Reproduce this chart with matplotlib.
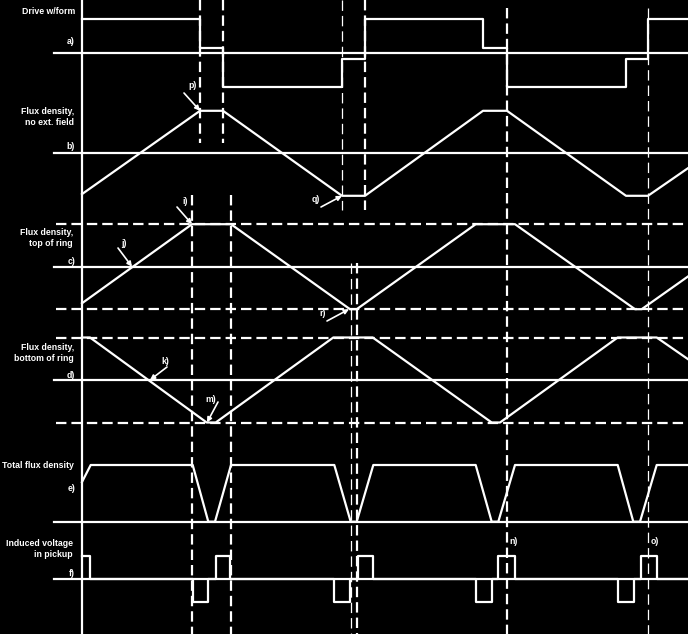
import matplotlib
matplotlib.use("Agg")
import matplotlib.pyplot as plt

plt.rcParams['lines.scale_dashes'] = False
plt.rcParams['font.family'] = ['Liberation Sans', 'DejaVu Sans']

# ---------------- data (time in diagram units, levels normalised) ----------------
t_drive = [82, 200, 223, 342, 365, 483, 507, 626, 648, 688]
v_drive = [1.0, 0.15, -1.0, -0.19, 1.0, 0.15, -1.0, -0.19, 1.0, 1.0]

t_flux_b = [82, 200, 223, 342, 365, 483, 507, 626, 648, 688]
v_flux_b = [-0.96, 1, 1, -1, -1, 1, 1, -1, -1, -0.35]

t_flux_c = [82, 192, 231, 350, 356.7, 475.7, 515, 635, 641.7, 688]
v_flux_c = [-0.86, 1, 1, -1, -1, 1, 1, -1, -1, -0.23]

t_flux_d = [82, 90, 206.7, 215.7, 333.3, 372.7, 491.7, 500, 617.7, 656.7, 688]
v_flux_d = [1, 1, -1, -1, 1, 1, -1, -1, 1, 1, 0.49]

t_total = [82, 90.7, 192.7, 208.3, 215, 231, 334.3, 350.7, 356.7, 373.3, 475.7,
           491.7, 498.3, 515, 617.7, 633.3, 640, 656.7, 688]
v_total = [0.7, 1, 1, 0, 0, 1, 1, 0, 0, 1, 1, 0, 0, 1, 1, 0, 0, 1, 1]

t_pickup = [82, 90, 192.7, 208.3, 216, 230, 334.3, 350, 357.7, 373.3, 475.7,
            492.3, 498.3, 515, 617.7, 634, 640.7, 656.7, 688]
v_pickup = [1, 0, -1, 0, 1, 0, -1, 0, 1, 0, -1, 0, 1, 0, -1, 0, 1, 0, 0]

labels_main = ["Drive w/form", "Flux density,\nno ext. field", "Flux density,\ntop of ring",
               "Flux density,\nbottom of ring", "Total flux density", "Induced voltage\nin pickup"]
labels_ch = ["a)", "b)", "c)", "d)", "e)", "f)"]

# marker times (vertical dashed lines)
t_marks_thick = [200, 223, 365, 507, 192, 231, 356.7]
t_marks_thin = [342, 648, 350.7]

# annotation labels
ann_labels = ["p)", "q)", "i)", "j)", "r)", "k)", "m)"]

# ---------------- layout ----------------
W, H = 688, 634
base = {'a': 52.7, 'b': 153.3, 'c': 266.7, 'd': 380.0, 'e': 521.7, 'f': 579.0}
amp = {'a': 33.8, 'b': 42.5, 'c': 42.5, 'd': 42.5, 'e': 56.7, 'f': 23.0}


def Y(ch, v):
    if isinstance(v, (list, tuple)):
        return [base[ch] - amp[ch] * x for x in v]
    return base[ch] - amp[ch] * v


fig = plt.figure(figsize=(W / 100, H / 100), dpi=100, facecolor='black')
ax = fig.add_axes([0, 0, 1, 1])
ax.set_facecolor('black')
ax.set_xlim(0, W)
ax.set_ylim(H, 0)
ax.axis('off')

WHITE = 'white'
LW = 1.6
dash = (0, (7.5, 3.6))

# time origin line
ax.plot([82, 82], [0, H], color=WHITE, lw=LW)

# baselines
for ch in 'abcdef':
    ax.plot([54, 688], [base[ch]] * 2, color=WHITE, lw=LW)

# horizontal dashed saturation levels for c and d
for ch in 'cd':
    for lv in (1, -1):
        ax.plot([56, 688], [Y(ch, lv)] * 2, color=WHITE, lw=LW, linestyle=dash)

# waveforms
ax.step(t_drive, Y('a', v_drive), where='post', color=WHITE, lw=LW)
ax.plot(t_flux_b, Y('b', v_flux_b), color=WHITE, lw=LW)
ax.plot(t_flux_c, Y('c', v_flux_c), color=WHITE, lw=LW)
ax.plot(t_flux_d, Y('d', v_flux_d), color=WHITE, lw=LW)
ax.plot(t_total, Y('e', v_total), color=WHITE, lw=LW)
ax.step(t_pickup, Y('f', v_pickup), where='post', color=WHITE, lw=LW)

# vertical dashed marker lines (layout extents)
vext = {200: (0, 143), 223: (0, 143), 342: (0, 210), 365: (0, 210),
        507: (8, H), 648: (8, H), 192: (195, H), 231: (195, H),
        350.7: (263, H), 356.7: (263, H)}
for t in t_marks_thick:
    y0, y1 = vext[t]
    ax.plot([t, t], [y0, y1], color=WHITE, lw=LW, linestyle=dash)
for t in t_marks_thin:
    y0, y1 = vext[t]
    ax.plot([t, t], [y0, y1], color=WHITE, lw=0.9, linestyle=dash)

# channel labels
fs = 6.3
txt = dict(color=WHITE, fontsize=fs, ha='right', va='center', fontweight='bold')
ax.text(75, 11, labels_main[0], **txt)
ax.text(75, 41, labels_ch[0], **txt)
ax.text(74, 117, labels_main[1], linespacing=1.2, **txt)
ax.text(75, 146.7, labels_ch[1], **txt)
ax.text(73, 238, labels_main[2], linespacing=1.2, **txt)
ax.text(75, 261, labels_ch[2], **txt)
ax.text(74, 353, labels_main[3], linespacing=1.2, **txt)
ax.text(75, 375, labels_ch[3], **txt)
ax.text(74, 466, labels_main[4], **txt)
ax.text(75, 488.3, labels_ch[4], **txt)
ax.text(73, 549, labels_main[5], linespacing=1.2, **txt)
ax.text(75, 573.3, labels_ch[5], **txt)

# arrowed annotations: target, arrow tail, label position
ann_geom = [
    ((200, Y('b', 1)), (184, 93), (193, 86)),
    ((342, Y('b', -1)), (321, 207), (316, 199)),
    ((192, Y('c', 1)), (177, 207), (185, 201)),
    ((132, Y('c', 0)), (118, 248), (124, 243)),
    ((349, Y('c', -1)), (327, 321), (323, 313)),
    ((150, Y('d', 0)), (167, 367), (165, 362)),
    ((207, Y('d', -1)), (218, 402), (211, 399)),
]
for lab, (xy, xyt, tpos) in zip(ann_labels, ann_geom):
    ax.annotate('', xy=xy, xytext=xyt,
                arrowprops=dict(arrowstyle='-|>', color=WHITE, lw=1.2,
                                mutation_scale=7, shrinkA=0, shrinkB=0))
    ax.text(tpos[0], tpos[1], lab, color=WHITE, fontsize=fs, fontweight='bold',
            ha='center', va='center')

ax.text(509, 541.7, "n)", color=WHITE, fontsize=fs, fontweight='bold', ha='left', va='center')
ax.text(651, 541.7, "o)", color=WHITE, fontsize=fs, fontweight='bold', ha='left', va='center')

fig.savefig("out.png", dpi=100, facecolor='black')
